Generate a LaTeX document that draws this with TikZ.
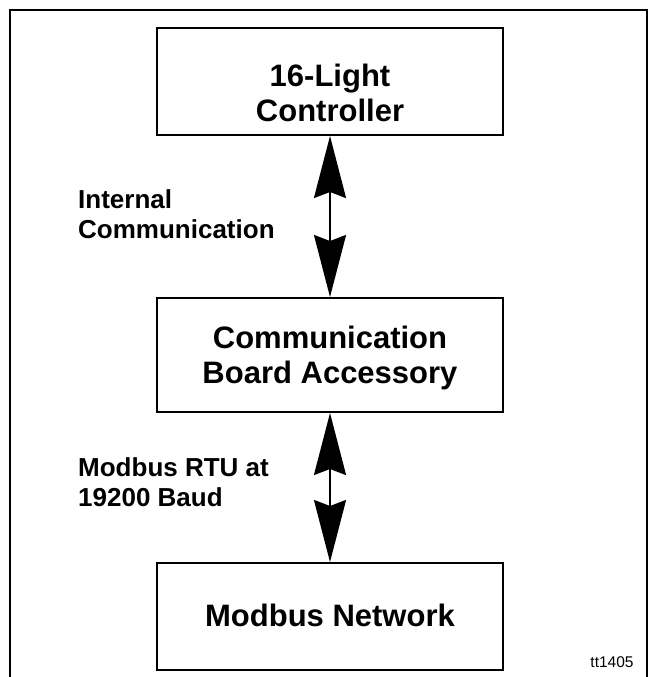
\documentclass[tikz,border=0pt]{standalone}
\usepackage{fontspec}
\setmainfont{Liberation Sans}
\usetikzlibrary{arrows.meta,calc}
\begin{document}
\begin{tikzpicture}[x=1pt,y=1pt,
  box/.style={draw, line width=2pt, minimum width=346pt, inner sep=0pt},
  boxtext/.style={font=\bfseries\fontsize{31}{35}\selectfont, align=center, inner sep=0pt},
  lbl/.style={font=\bfseries\fontsize{26}{30}\selectfont, align=left, anchor=west, inner sep=0pt},
  link/.style={line width=2pt, {Stealth[length=62pt,width=32pt,inset=6pt]}-{Stealth[length=62pt,width=32pt,inset=6pt]}}]
\useasboundingbox (0,0) rectangle (650,-677);
\draw[line width=2.2pt] (10,-677) -- (10,-10) -- (647,-10) -- (647,-677);
\node[box, minimum height=107pt] (ctrl) at (330,-81.5) {};
\node[box, minimum height=114pt] (board) at (330,-355) {};
\node[box, minimum height=107pt] (net) at (330,-616.5) {};
\node[boxtext] (ctrltext) at ($(ctrl.center)+(0,-11)$) {16-Light\\Controller};
\node[boxtext] (boardtext) at ($(board.center)+(0,-3)$) {Communication\\Board Accessory};
\node[boxtext] (nettext) at ($(net.center)+(0,1)$) {Modbus Network};
\draw[link] (ctrl.south) -- (board.north);
\draw[link] (board.south) -- (net.north);
\node[lbl] (lbl1) at (78,-214) {Internal\\Communication};
\node[lbl] (lbl2) at (78,-482) {Modbus RTU at\\19200 Baud};
\node[font=\fontsize{15.5}{18}\selectfont, anchor=base, inner sep=0pt] (tag) at (612,-667) {tt1405};
\end{tikzpicture}
\end{document}
